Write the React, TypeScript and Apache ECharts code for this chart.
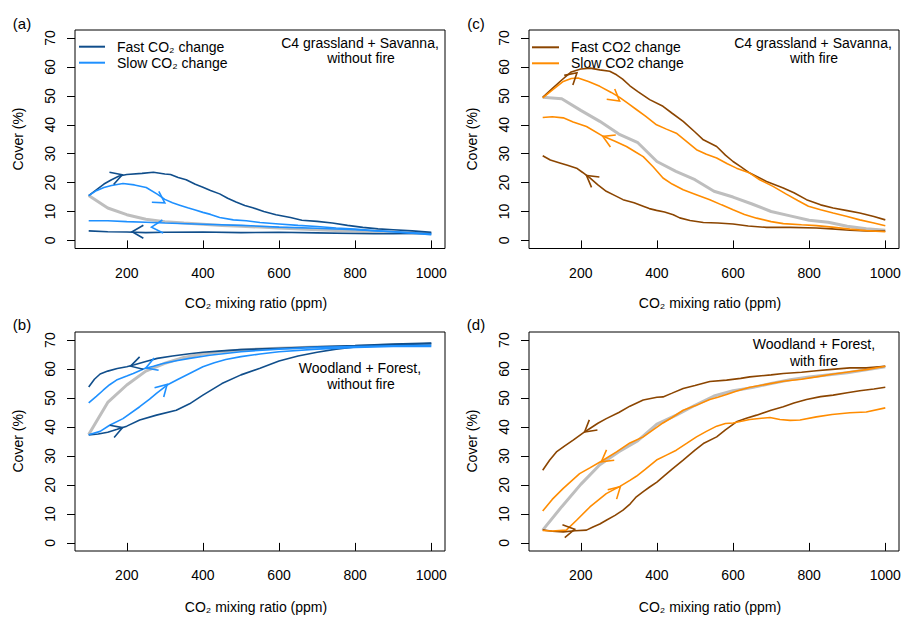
import React, { useEffect, useRef } from "react";
import * as echarts from "echarts";

const FONT = '"Liberation Sans", Arial, Helvetica, sans-serif';

// ---------- tick values ----------
const xTicks = [200, 400, 600, 800, 1000];
const yTicks = [0, 10, 20, 30, 40, 50, 60, 70];
const panelLabels = ["(a)", "(b)", "(c)", "(d)"];
const xTitle = "CO₂ mixing ratio (ppm)";
const yTitle = "Cover (%)";

// ---------- panel (a): C4 grassland + Savanna, without fire ----------
const aEq = [[100,15.5],[150,11.2],[200,8.9],[250,7.3],[300,6.5],[350,6.0],[400,5.6],[450,5.2],[500,4.9],[550,4.6],[600,4.3],[700,3.7],[800,3.2],[900,2.8],[1000,2.3]];
const aFastUp = [[100,15.5],[120,17.5],[140,19.5],[160,21],[180,22.3],[200,22.8],[240,23.2],[270,23.6],[300,23.0],[315,22.8],[335,21.8],[356,21.0],[380,19.4],[400,18.4],[420,17.3],[444,16.1],[465,14.6],[487,13.3],[510,12.1],[531,11.3],[560,10.0],[592,8.9],[630,7.9],[660,7.0],[700,6.6],[740,6.0],[780,5.2],[820,4.5],[860,4.0],[900,3.7],[950,3.3],[1000,2.8]];
const aFastDown = [[100,3.3],[150,3.0],[200,2.9],[250,2.7],[300,2.8],[400,2.9],[500,2.7],[600,2.8],[700,2.6],[800,2.4],[850,2.3],[900,2.3],[950,2.4],[1000,2.5]];
const aSlowUp = [[100,15.5],[120,17.2],[140,18.3],[160,19.0],[190,19.7],[220,19.2],[251,18.3],[280,16.0],[300,14.2],[320,13.0],[339,12.2],[360,11.3],[380,10.5],[400,9.7],[420,9.0],[444,7.9],[480,7.1],[514,6.8],[550,6.2],[600,5.7],[650,5.2],[700,4.8],[750,4.3],[800,3.9],[850,3.4],[900,3.0],[950,2.6],[1000,2.2]];
const aSlowDown = [[100,6.8],[150,6.8],[200,6.5],[250,6.3],[300,6.0],[400,5.6],[500,5.2],[600,4.6],[700,4.2],[800,3.7],[900,3.0],[1000,2.0]];
const aFastArrows = [[188,22.7,150,21.0],[214,3.0,260,3.0]];
const aSlowArrows = [[300,13.0,270,15.5],[265,4.6,305,4.9]];

// ---------- panel (b): Woodland + Forest, without fire ----------
const bEq = [[100,37.4],[150,48.5],[200,54.5],[250,59.3],[300,62.0],[350,64.0],[400,65.2],[450,66.0],[500,66.6],[600,67.2],[700,67.6],[800,67.9],[900,68.3],[1000,68.6]];
const bFastUp = [[100,37.3],[125,37.6],[150,38.2],[175,39.2],[200,40.3],[234,42.4],[278,44.1],[330,45.8],[365,48.0],[400,51.0],[450,55.0],[500,58.0],[550,60.3],[600,62.8],[650,64.5],[700,65.8],[750,66.9],[800,67.6],[850,68.0],[900,68.4],[1000,68.8]];
const bFastDown = [[100,53.8],[115,56.5],[130,58.3],[150,59.3],[175,60.2],[200,60.8],[220,61.5],[250,62.6],[280,63.7],[320,64.5],[365,65.3],[400,65.8],[450,66.3],[500,66.7],[600,67.2],[700,67.7],[800,68.1],[900,68.6],[1000,69.0]];
const bSlowUp = [[100,37.3],[130,38.5],[155,40.6],[190,42.9],[234,47.0],[260,49.6],[278,51.6],[306,54.5],[335,56.5],[365,58.5],[400,60.8],[430,62.2],[460,63.3],[500,64.3],[550,65.2],[600,66.0],[700,66.9],[800,67.5],[900,67.8],[1000,67.8]];
const bSlowDown = [[100,48.3],[120,50.6],[138,52.7],[155,54.6],[173,56.2],[200,57.6],[217,58.5],[247,60.2],[270,61.0],[295,61.9],[330,62.9],[365,63.7],[418,64.8],[500,66.0],[600,66.9],[700,67.5],[800,67.8],[900,68.0],[1000,68.2]];
const bFastArrows = [[189,39.8,150,38.0],[210,61.0,250,62.5]];
const bSlowArrows = [[306,54.7,270,50.0],[250,60.4,290,62.3]];

// ---------- panel (c): C4 grassland + Savanna, with fire ----------
const cEq = [[100,49.5],[150,49.0],[200,45.0],[250,41.2],[300,36.8],[350,33.8],[400,27.3],[450,23.9],[500,21.0],[550,17.0],[600,15.0],[650,12.6],[700,10.0],[750,8.5],[800,7.0],[850,6.3],[900,4.9],[950,4.0],[1000,3.5]];
const cFastUp = [[100,49.5],[125,52.5],[150,55.5],[175,58.3],[200,59.3],[225,59.6],[250,59.0],[276,58.5],[294,57.3],[310,55.8],[329,53.5],[350,51.5],[381,48.7],[416,46.4],[440,44.0],[469,41.2],[500,37.5],[522,34.8],[557,32.5],[580,29.5],[600,27.3],[620,25.5],[644,23.3],[688,20.4],[732,18.1],[760,16.5],[793,14.1],[830,12.3],[863,11.2],[900,10.3],[933,9.5],[970,8.3],[1000,7.1]];
const cFastDown = [[100,29.3],[120,27.8],[145,26.8],[165,26.0],[189,25.0],[205,23.5],[224,21.6],[245,19.2],[267,17.0],[290,15.5],[311,14.1],[340,13.0],[364,11.8],[380,11.0],[399,10.4],[420,9.8],[443,8.9],[460,7.8],[487,6.9],[522,6.2],[560,6.0],[600,5.7],[640,5.0],[688,4.5],[750,4.5],[819,4.3],[860,4.0],[907,3.5],[950,3.3],[1000,3.2]];
const cSlowUp = [[100,49.3],[125,52.0],[154,55.0],[175,56.0],[193,56.2],[220,55.0],[250,53.3],[280,51.2],[302,49.5],[325,47.3],[346,45.3],[370,43.0],[399,40.0],[425,38.5],[451,37.1],[480,34.0],[504,31.4],[530,29.8],[557,28.5],[585,26.5],[609,25.0],[644,23.3],[670,21.0],[705,18.7],[740,16.0],[770,13.8],[798,11.8],[830,10.6],[863,9.5],[900,8.3],[933,7.1],[970,6.0],[1000,5.1]];
const cSlowDown = [[100,42.5],[125,42.8],[154,42.4],[180,41.0],[215,39.4],[259,36.0],[290,34.3],[320,32.5],[345,30.5],[364,29.0],[390,25.5],[416,21.6],[440,19.5],[469,17.5],[500,16.0],[539,14.1],[570,12.3],[600,10.6],[630,9.0],[662,7.7],[700,6.5],[732,5.8],[780,5.4],[819,5.1],[860,4.6],[907,3.9],[950,3.4],[1000,3.0]];
const cFastArrows = [[190,58.0,160,54.5],[215,22.5,250,19.0]];
const cSlowArrows = [[302,48.2,270,51.5],[258,36.0,300,33.5]];

// ---------- panel (d): Woodland + Forest, with fire ----------
const dEq = [[100,4.4],[150,12.5],[200,20.2],[250,27.0],[300,31.5],[350,35.3],[400,41.0],[451,44.1],[500,47.5],[550,50.7],[600,52.5],[650,53.6],[700,55.0],[750,56.3],[800,57.3],[900,58.7],[1000,60.8]];
const dFastUp = [[100,4.5],[125,4.0],[154,3.8],[185,4.2],[215,4.4],[232,5.5],[250,6.5],[267,7.8],[290,9.5],[311,11.3],[330,13.5],[346,15.9],[365,17.8],[381,19.3],[400,21.0],[416,22.8],[440,25.5],[469,28.6],[500,32.0],[522,34.3],[557,36.6],[580,39.0],[609,41.8],[635,43.0],[662,44.1],[700,45.8],[732,47.0],[760,48.3],[793,49.5],[830,50.5],[863,51.0],[900,51.8],[933,52.5],[970,53.1],[1000,53.7]];
const dFastDown = [[100,25.1],[118,28.5],[136,31.4],[158,33.5],[180,35.5],[210,38.3],[224,39.5],[245,41.3],[267,42.9],[300,45.0],[329,47.2],[364,49.3],[400,50.3],[416,50.4],[440,51.7],[469,53.3],[500,54.3],[539,55.7],[583,56.2],[620,56.8],[644,57.3],[700,58.0],[732,58.5],[780,58.9],[819,59.4],[860,59.9],[907,60.4],[950,60.4],[1000,61.0]];
const dSlowUp = [[100,4.3],[125,4.1],[162,4.4],[189,7.8],[224,12.4],[267,17.0],[304,19.6],[329,21.6],[346,23.0],[370,25.5],[399,28.6],[425,30.3],[451,32.0],[480,34.5],[504,36.6],[530,38.5],[557,40.3],[580,41.2],[600,41.4],[644,42.6],[697,43.3],[723,42.6],[750,42.3],[776,42.4],[819,43.5],[860,44.3],[907,44.9],[950,45.2],[1000,46.6]];
const dSlowDown = [[100,11.0],[125,15.0],[154,18.8],[197,23.9],[225,26.0],[254,28.2],[294,31.4],[329,34.5],[364,36.6],[390,39.0],[416,41.4],[440,43.3],[469,45.8],[500,47.3],[539,49.5],[560,50.3],[583,51.2],[610,52.4],[644,53.7],[690,54.8],[732,55.8],[780,56.5],[819,57.3],[860,58.2],[907,59.1],[950,59.8],[1000,61.0]];
const dFastArrows = [[210,38.3,250,42.5],[184,4.7,150,3.9]];
const dSlowArrows = [[254,28.0,290,31.5],[304,19.4,270,15.2]];

// ---------- styling / layout ----------
const BLUE_DARK = "#104E8B";
const BLUE_LIGHT = "#1E90FF";
const BROWN = "#8B4500";
const ORANGE = "#FF8C00";
const GREY = "#BEBEBE";

// outer frame of each panel (pixels)
const boxes = [
  { x: 75, y: 30, w: 370, h: 218.5 },
  { x: 75, y: 332, w: 370, h: 219 },
  { x: 529, y: 30, w: 370, h: 218.5 },
  { x: 529, y: 332, w: 370, h: 219 },
];
// R-style 4% padding of the frame around the data range
const X_MIN = 100, X_MAX = 1000, Y_MIN = 0, Y_MAX = 70;
const XPAD = 0.04 * (X_MAX - X_MIN);
const YPAD = 0.04 * (Y_MAX - Y_MIN);

function innerGrid(b: { x: number; y: number; w: number; h: number }) {
  const sx = b.w / (X_MAX - X_MIN + 2 * XPAD);
  const sy = b.h / (Y_MAX - Y_MIN + 2 * YPAD);
  return {
    left: b.x + XPAD * sx,
    top: b.y + YPAD * sy,
    width: (X_MAX - X_MIN) * sx,
    height: (Y_MAX - Y_MIN) * sy,
    offX: YPAD * sy,
    offY: XPAD * sx,
  };
}

const panels = [
  { eq: aEq, fu: aFastUp, fd: aFastDown, su: aSlowUp, sd: aSlowDown, fa: aFastArrows, sa: aSlowArrows, cf: BLUE_DARK, cs: BLUE_LIGHT },
  { eq: bEq, fu: bFastUp, fd: bFastDown, su: bSlowUp, sd: bSlowDown, fa: bFastArrows, sa: bSlowArrows, cf: BLUE_DARK, cs: BLUE_LIGHT },
  { eq: cEq, fu: cFastUp, fd: cFastDown, su: cSlowUp, sd: cSlowDown, fa: cFastArrows, sa: cSlowArrows, cf: BROWN, cs: ORANGE },
  { eq: dEq, fu: dFastUp, fd: dFastDown, su: dSlowUp, sd: dSlowDown, fa: dFastArrows, sa: dSlowArrows, cf: BROWN, cs: ORANGE },
];

function txt(x: number, y: number, text: string, align = "center", extra: any = {}) {
  return {
    type: "text",
    x,
    y,
    silent: true,
    ...extra,
    style: {
      text,
      fontSize: 14,
      fontFamily: FONT,
      fill: "#000",
      align,
      textAlign: align,
      verticalAlign: "middle",
      textVerticalAlign: "middle",
      ...(extra.style || {}),
    },
  };
}

function legendLine(x1: number, x2: number, y: number, color: string) {
  return { type: "line", silent: true, shape: { x1, y1: y, x2, y2: y }, style: { stroke: color, lineWidth: 2 } };
}

function buildOption() {
  const grid: any[] = [];
  const xAxis: any[] = [];
  const yAxis: any[] = [];
  const series: any[] = [];
  boxes.forEach((b, i) => {
    const g = innerGrid(b);
    grid.push({ left: g.left, top: g.top, width: g.width, height: g.height, containLabel: false, outerBoundsMode: "none" });
    xAxis.push({
      type: "value",
      gridIndex: i,
      min: X_MIN,
      max: X_MAX,
      offset: g.offX,
      axisLine: { show: false },
      splitLine: { show: false },
      axisTick: { show: true, inside: false, length: 8, customValues: xTicks, lineStyle: { color: "#000", width: 1 } },
      axisLabel: {
        show: true,
        customValues: xTicks,
        margin: 17,
        fontSize: 14,
        fontFamily: FONT,
        color: "#000",
        formatter: (v: number) => String(v),
      },
    });
    yAxis.push({
      type: "value",
      gridIndex: i,
      min: Y_MIN,
      max: Y_MAX,
      interval: 10,
      offset: g.offY,
      axisLine: { show: false },
      splitLine: { show: false },
      axisTick: { show: true, inside: false, length: 8, lineStyle: { color: "#000", width: 1 } },
      axisLabel: { show: false },
    });
    const p = panels[i];
    const line = (data: number[][], color: string, width: number, z: number) => ({
      type: "line",
      xAxisIndex: i,
      yAxisIndex: i,
      data,
      symbol: "none",
      showSymbol: false,
      silent: true,
      clip: false,
      z,
      lineStyle: { color, width },
      itemStyle: { color },
    });
    const arrows = (data: number[][], color: string) => ({
      type: "custom",
      xAxisIndex: i,
      yAxisIndex: i,
      data,
      silent: true,
      clip: false,
      z: 5,
      dimensions: ["x", "y", "fx", "fy"],
      encode: { x: [0, 2], y: [1, 3] },
      renderItem: (_params: any, api: any) => {
        const tip = api.coord([api.value(0), api.value(1)]);
        const from = api.coord([api.value(2), api.value(3)]);
        const ang = Math.atan2(tip[1] - from[1], tip[0] - from[0]);
        const L = 13;
        const sp = Math.PI / 6;
        const p1 = [tip[0] - L * Math.cos(ang - sp), tip[1] - L * Math.sin(ang - sp)];
        const p2 = [tip[0] - L * Math.cos(ang + sp), tip[1] - L * Math.sin(ang + sp)];
        return {
          type: "polyline",
          shape: { points: [p1, tip, p2] },
          style: { stroke: color, lineWidth: 1.6, fill: null },
        };
      },
    });
    series.push(line(p.eq, GREY, 3, 1));
    series.push(line(p.fu, p.cf, 1.6, 2));
    series.push(line(p.fd, p.cf, 1.6, 2));
    series.push(line(p.su, p.cs, 1.6, 3));
    series.push(line(p.sd, p.cs, 1.6, 3));
    series.push(arrows(p.fa, p.cf));
    series.push(arrows(p.sa, p.cs));
  });

  return {
    animation: false,
    backgroundColor: "#fff",
    grid,
    xAxis,
    yAxis,
    series,
  };
}

function buildGraphic(chart: any) {
  const graphic: any[] = [];
  boxes.forEach((b, i) => {
    const g = innerGrid(b);
    graphic.push({
      type: "rect",
      silent: true,
      shape: { x: b.x, y: b.y, width: b.w, height: b.h },
      style: { stroke: "#000", lineWidth: 1, fill: "none" },
      z: 10,
    });
    // rotated y tick labels (R style), positioned through the panel's y scale
    yTicks.forEach((v) => {
      const pt = chart.convertToPixel({ gridIndex: i }, [X_MIN, v]);
      graphic.push(txt(pt[0] - g.offY - 25, pt[1], String(v), "center", { rotation: Math.PI / 2 }));
    });
  });
  graphic.push(
    // panel labels
    txt(22, 23, panelLabels[0], "center", { style: { fontSize: 15 } }),
    txt(22, 324, panelLabels[1], "center", { style: { fontSize: 15 } }),
    txt(476, 23, panelLabels[2], "center", { style: { fontSize: 15 } }),
    txt(476, 324, panelLabels[3], "center", { style: { fontSize: 15 } }),
    // axis titles
    txt(256, 303, xTitle),
    txt(256, 607, xTitle),
    txt(710, 303, xTitle),
    txt(710, 607, xTitle),
    txt(18, 139, yTitle, "center", { rotation: Math.PI / 2 }),
    txt(18, 441, yTitle, "center", { rotation: Math.PI / 2 }),
    txt(472, 139, yTitle, "center", { rotation: Math.PI / 2 }),
    txt(472, 441, yTitle, "center", { rotation: Math.PI / 2 }),
    // legends
    legendLine(79, 105, 46.7, BLUE_DARK),
    legendLine(79, 105, 62.7, BLUE_LIGHT),
    txt(117, 46.7, "Fast CO₂ change", "left"),
    txt(117, 62.7, "Slow CO₂ change", "left"),
    legendLine(532, 559, 47.3, BROWN),
    legendLine(532, 559, 63.3, ORANGE),
    txt(571, 47.3, "Fast CO2 change", "left"),
    txt(571, 63.3, "Slow CO2 change", "left"),
    // panel descriptions
    txt(360, 42.7, "C4 grassland + Savanna,"),
    txt(361, 58.3, "without fire"),
    txt(360, 367.7, "Woodland + Forest,"),
    txt(361, 384.3, "without fire"),
    txt(813, 42.7, "C4 grassland + Savanna,"),
    txt(814, 58.3, "with fire"),
    txt(814, 344.3, "Woodland + Forest,"),
    txt(814, 361, "with fire")
  );
  return graphic;
}

export default function App() {
  const ref = useRef<HTMLDivElement>(null);
  useEffect(() => {
    if (!ref.current) return;
    const chart = echarts.init(ref.current, undefined, { renderer: "svg" });
    chart.setOption(buildOption() as any);
    chart.setOption({ graphic: buildGraphic(chart) } as any);
    return () => chart.dispose();
  }, []);
  return (
    <div
      ref={ref}
      style={{ position: "fixed", left: 0, top: 0, width: 903, height: 617, background: "#fff" }}
    />
  );
}
